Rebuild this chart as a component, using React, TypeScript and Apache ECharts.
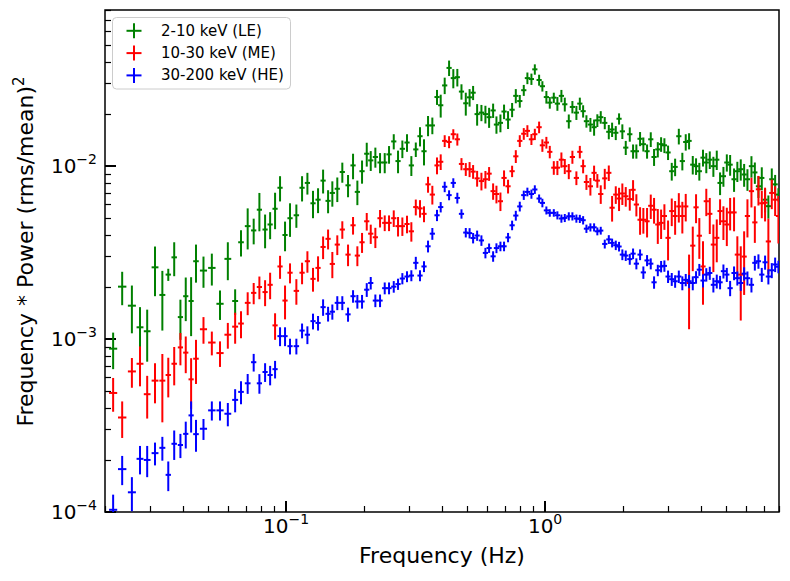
import React, { useEffect, useRef } from "react";
import * as echarts from "echarts";

// Frequencies (Hz), shared by the three energy bands
const freq = [
  0.0215, 0.0233, 0.0254, 0.0273, 0.0291, 0.0312, 0.0333, 0.0351, 0.0370, 0.0391,
  0.0410, 0.0430, 0.0449, 0.0480, 0.0517, 0.0556, 0.0596, 0.0636, 0.0670, 0.0711,
  0.0750, 0.0789, 0.0830, 0.0868, 0.0907, 0.0948, 0.0991, 0.1036,
  0.1096, 0.1153, 0.1209, 0.1271, 0.1329, 0.1390, 0.1453, 0.1509, 0.1577, 0.1649,
  0.1735, 0.1814, 0.1885, 0.1965, 0.2049, 0.2123, 0.2212, 0.2306, 0.2404, 0.2498,
  0.2605, 0.2706, 0.2812, 0.2931, 0.3046, 0.3169, 0.3290, 0.3409, 0.3533, 0.3671,
  0.3827, 0.3954, 0.4097, 0.4260, 0.4423, 0.4584, 0.4756, 0.4942,
  0.5112, 0.5274, 0.5466, 0.5679, 0.5884, 0.6080, 0.6301, 0.6490, 0.6724, 0.6944,
  0.7195, 0.7460, 0.7709, 0.7986, 0.8275, 0.8545, 0.8857, 0.9129, 0.9484, 0.9763,
  1.0116, 1.0427, 1.0806, 1.1157, 1.1562, 1.1915, 1.2347, 1.2749, 1.3209, 1.3619,
  1.4025, 1.4442, 1.4960, 1.5461, 1.5914, 1.6403, 1.7000, 1.7620, 1.8145, 1.8747,
  1.9302,
  1.9876, 2.0486, 2.1232, 2.1863, 2.2515, 2.3266, 2.3957, 2.4758, 2.5586, 2.6348,
  2.7238, 2.8050, 2.8885, 2.9840, 3.0837, 3.1773, 3.2835, 3.3878, 3.4918, 3.5968,
  3.717, 3.8271, 3.9399, 4.0716, 4.192, 4.3236, 4.464, 4.601, 4.738, 4.881,
  5.031, 5.181, 5.365, 5.524, 5.694, 5.868, 6.043, 6.262, 6.454, 6.664,
  6.865, 7.069, 7.279, 7.503, 7.730, 7.96,
];

// 2-10 keV (LE)
const leVal = [
  8.8e-4, 2.01e-3, 1.56e-3, 1.17e-3, 1.11e-3, 2.6e-3, 1.8e-3, 2.36e-3, 2.97e-3, 1.34e-3,
  1.77e-3, 1.66e-3, 2.82e-3, 2.49e-3, 2.58e-3, 1.6e-3, 2.91e-3, 1.66e-3, 3.63e-3, 4.5e-3,
  4.25e-3, 5.6e-3, 4.3e-3, 4.6e-3, 5.67e-3, 7.5e-3, 4.0e-3, 5.0e-3,
  5.2e-3, 7.5e-3, 8.0e-3, 6.1e-3, 6.4e-3, 8.25e-3, 6.3e-3, 7.0e-3, 7.4e-3, 9.25e-3,
  7.75e-3, 1.01e-2, 7.1e-3, 9.35e-3, 1.18e-2, 1.08e-2, 1.13e-2, 1.05e-2, 1.05e-2, 1.17e-2,
  1.39e-2, 1.07e-2, 1.26e-2, 1.37e-2, 1.01e-2, 1.25e-2, 1.49e-2, 1.22e-2, 1.72e-2, 1.72e-2,
  2.51e-2, 2.25e-2, 2.93e-2, 3.7e-2, 3.23e-2, 3.27e-2, 2.7e-2, 2.31e-2,
  2.5e-2, 2.66e-2, 2.0e-2, 2.04e-2, 2.0e-2, 1.92e-2, 2.1e-2, 1.74e-2, 1.78e-2, 2.07e-2,
  1.86e-2, 2.12e-2, 2.55e-2, 2.38e-2, 2.75e-2, 3.23e-2, 3.19e-2, 3.63e-2, 3.15e-2, 2.9e-2,
  2.51e-2, 2.33e-2, 2.49e-2, 2.3e-2, 2.55e-2, 2.28e-2, 1.82e-2, 2.2e-2, 2.04e-2, 2.3e-2,
  2.08e-2, 1.82e-2, 1.74e-2, 1.68e-2, 1.84e-2, 1.92e-2, 1.78e-2, 1.58e-2, 1.63e-2, 1.56e-2,
  1.88e-2,
  1.59e-2, 1.28e-2, 1.53e-2, 1.22e-2, 1.22e-2, 1.44e-2, 1.34e-2, 1.22e-2, 1.43e-2, 1.13e-2,
  1.25e-2, 1.34e-2, 1.32e-2, 1.2e-2, 9.35e-3, 9.9e-3, 1.49e-2, 1.07e-2, 1.38e-2, 1.4e-2,
  1.02e-2, 1.0e-2, 9.35e-3, 1.12e-2, 1.05e-2, 1.09e-2, 1.0e-2, 1.09e-2, 8.0e-3, 8.75e-3,
  1.05e-2, 1.02e-2, 8.4e-3, 9.35e-3, 9.6e-3, 8.95e-3, 8.4e-3, 1.0e-2, 9.2e-3, 7.65e-3,
  8.55e-3, 6.4e-3, 5.87e-3, 8.4e-3, 7.85e-3, 6.85e-3,
];
const leErr = [
  2.1e-4, 4.4e-4, 4.8e-4, 3.6e-4, 3.7e-4, 8.3e-4, 6.8e-4, 1.9e-4, 6.6e-4, 3.5e-4,
  5.0e-4, 6.2e-4, 7.0e-4, 5.1e-4, 5.4e-4, 3.1e-4, 7.2e-4, 2.8e-4, 6.3e-4, 1.2e-3,
  7.2e-4, 1.4e-3, 9.5e-4, 8.2e-4, 1.35e-3, 1.25e-3, 7.8e-4, 1.1e-3,
  8.0e-4, 1.25e-3, 1.15e-3, 1.1e-3, 1.05e-3, 1.3e-3, 9.6e-4, 1.17e-3, 1.2e-3, 1.23e-3,
  1.14e-3, 1.7e-3, 1.15e-3, 1.43e-3, 1.86e-3, 1.42e-3, 1.5e-3, 1.4e-3, 1.4e-3, 1.37e-3,
  1.4e-3, 1.6e-3, 1.47e-3, 1.6e-3, 1.33e-3, 1.2e-3, 1.9e-3, 2.1e-3, 2.3e-3, 1.9e-3,
  2.5e-3, 3.4e-3, 3.2e-3, 3.8e-3, 4.1e-3, 3.8e-3, 2.75e-3, 3.5e-3,
  2.9e-3, 2.5e-3, 2.85e-3, 2.2e-3, 2.35e-3, 2.55e-3, 2.0e-3, 2.0e-3, 2.1e-3, 2.0e-3,
  2.2e-3, 2.0e-3, 2.4e-3, 2.0e-3, 2.0e-3, 2.5e-3, 2.4e-3, 2.5e-3, 2.3e-3, 2.0e-3,
  2.1e-3, 1.8e-3, 1.7e-3, 2.1e-3, 2.1e-3, 2.1e-3, 1.7e-3, 1.8e-3, 1.9e-3, 1.9e-3,
  1.7e-3, 1.5e-3, 1.6e-3, 1.8e-3, 1.55e-3, 1.6e-3, 1.45e-3, 1.5e-3, 1.55e-3, 1.45e-3,
  1.4e-3,
  1.55e-3, 1.2e-3, 1.45e-3, 1.15e-3, 1.15e-3, 1.35e-3, 1.25e-3, 1.15e-3, 1.4e-3, 1.27e-3,
  1.27e-3, 1.3e-3, 1.3e-3, 1.15e-3, 1.1e-3, 1.15e-3, 1.55e-3, 1.25e-3, 1.5e-3, 1.5e-3,
  1.25e-3, 1.1e-3, 1.1e-3, 1.25e-3, 1.4e-3, 1.27e-3, 1.33e-3, 1.4e-3, 1.2e-3, 1.15e-3,
  1.2e-3, 1.4e-3, 1.3e-3, 1.25e-3, 1.35e-3, 1.35e-3, 1.2e-3, 1.42e-3, 1.3e-3, 1.1e-3,
  1.3e-3, 1.0e-3, 9e-4, 1.3e-3, 1.05e-3, 6e-4,
];

// 10-30 keV (ME)
const meVal = [
  4.88e-4, 3.52e-4, 6.5e-4, 7.2e-4, 4.8e-4, 5.75e-4, 5.75e-4, 6.2e-4, 7.2e-4, 8.95e-4,
  8.35e-4, 5.85e-4, 7.7e-4, 1.14e-3, 9.55e-4, 8.3e-4, 1.06e-3, 1.18e-3, 1.23e-3, 1.62e-3,
  1.85e-3, 2.0e-3, 1.87e-3, 2.06e-3, 1.2e-3, 2.63e-3, 1.67e-3, 2.42e-3,
  1.9e-3, 2.42e-3, 2.82e-3, 2.23e-3, 2.58e-3, 3.41e-3, 3.8e-3, 2.72e-3, 3.52e-3, 4.3e-3,
  3.08e-3, 4.55e-3, 3.04e-3, 3.63e-3, 4.8e-3, 4.07e-3, 3.88e-3, 5.0e-3, 4.7e-3, 4.7e-3,
  5.0e-3, 4.5e-3, 4.5e-3, 4.63e-3, 4.2e-3, 5.8e-3, 5.7e-3, 5.3e-3, 7.85e-3, 6.85e-3,
  1.01e-2, 1.06e-2, 1.4e-2, 1.38e-2, 1.53e-2, 1.43e-2, 1.03e-2, 9.6e-3,
  9.6e-3, 9.3e-3, 8.5e-3, 8.2e-3, 8.4e-3, 9.05e-3, 7.17e-3, 6.9e-3, 6.27e-3, 8.55e-3,
  7.65e-3, 9.35e-3, 1.14e-2, 1.4e-2, 1.54e-2, 1.6e-2, 1.43e-2, 1.53e-2, 1.68e-2, 1.32e-2,
  1.37e-2, 1.21e-2, 9.8e-3, 9.8e-3, 1.09e-2, 1.0e-2, 9.35e-3, 1.13e-2, 8.55e-3, 1.21e-2,
  1.0e-2, 8.1e-3, 7.65e-3, 9.15e-3, 8.25e-3, 6.9e-3, 8.5e-3, 9.15e-3, 5.75e-3, 6.85e-3,
  6.5e-3,
  6.95e-3, 6.7e-3, 6.45e-3, 7.3e-3, 6.0e-3, 4.9e-3, 4.9e-3, 4.8e-3, 5.9e-3, 5.6e-3,
  4.6e-3, 4.7e-3, 5.15e-3, 3.85e-3, 5.5e-3, 5.15e-3, 5.85e-3, 5.15e-3, 5.85e-3, 2.11e-3,
  3.47e-3, 5.78e-3, 3.96e-3, 2.63e-3, 6.27e-3, 5.3e-3, 3.52e-3, 3.85e-3, 5.5e-3, 4.8e-3,
  4.6e-3, 5.4e-3, 5.4e-3, 3.08e-3, 2.36e-3, 3.0e-3, 5.15e-3, 7.17e-3, 4.73e-3, 7.35e-3,
  6.1e-3, 6.15e-3, 3.67e-3, 7.0e-3, 6.4e-3, 5.15e-3,
];
const meErr = [
  1.08e-4, 8.4e-5, 1.27e-4, 1.87e-4, 1.33e-4, 1.5e-4, 2.45e-4, 1.6e-4, 1.8e-4, 1.9e-4,
  2.0e-4, 1.9e-4, 2.2e-4, 2.0e-4, 1.5e-4, 1.4e-4, 1.8e-4, 2.4e-4, 2.2e-4, 2.45e-4,
  2.6e-4, 3.0e-4, 3.2e-4, 3.6e-4, 2.1e-4, 4.0e-4, 3.7e-4, 3.2e-4,
  3.2e-4, 3.45e-4, 4.0e-4, 3.5e-4, 4.3e-4, 5.1e-4, 5.0e-4, 4.7e-4, 4.6e-4, 5.0e-4,
  4.4e-4, 5.3e-4, 4.0e-4, 4.8e-4, 5.6e-4, 5.2e-4, 5.2e-4, 5.8e-4, 4.9e-4, 4.9e-4,
  5.5e-4, 5.8e-4, 5.5e-4, 5.4e-4, 5.4e-4, 6.1e-4, 6.6e-4, 5.6e-4, 8.3e-4, 8.5e-4,
  1.13e-3, 1.1e-3, 1.1e-3, 1.1e-3, 1.05e-3, 1.15e-3, 8.3e-4, 8.2e-4,
  9.6e-4, 8.5e-4, 8.9e-4, 9.6e-4, 9.8e-4, 8.3e-4, 7.8e-4, 8.1e-4, 7.7e-4, 9.0e-4,
  7.0e-4, 7.1e-4, 9.7e-4, 1.1e-3, 1.2e-3, 1.25e-3, 1.05e-3, 1.15e-3, 1.3e-3, 1.1e-3,
  1.07e-3, 1.0e-3, 8.9e-4, 9.2e-4, 1.1e-3, 1.0e-3, 9.4e-4, 9.8e-4, 7.8e-4, 1.0e-3,
  9.1e-4, 8.1e-4, 8.9e-4, 9.2e-4, 7.5e-4, 8.5e-4, 1.15e-3, 9.4e-4, 9.7e-4, 8.0e-4,
  1.0e-3,
  9.9e-4, 8.7e-4, 9.2e-4, 1.0e-3, 8.8e-4, 8.9e-4, 8.3e-4, 9.3e-4, 9.5e-4, 9.5e-4,
  1.05e-3, 9.1e-4, 8.7e-4, 1.0e-3, 1.0e-3, 1.14e-3, 1.13e-3, 1.07e-3, 1.06e-3, 9.7e-4,
  1.0e-3, 1.1e-3, 1.05e-3, 1.05e-3, 1.13e-3, 1.25e-3, 1.08e-3, 1.07e-3, 9.3e-4, 1.06e-3,
  1.15e-3, 1.15e-3, 1.2e-3, 8.5e-4, 1.08e-3, 1.2e-3, 1.28e-3, 1.4e-3, 1.13e-3, 1.43e-3,
  1.1e-3, 1.36e-3, 1.3e-3, 1.36e-3, 1.25e-3, 1.58e-3,
];

// 30-200 keV (HE)
const heVal = [
  1.03e-4, 1.77e-4, 1.3e-4, 2.03e-4, 2.0e-4, 2.19e-4, 2.35e-4, 1.64e-4, 2.48e-4, 2.44e-4,
  2.83e-4, 3.62e-4, 2.82e-4, 3.03e-4, 3.87e-4, 3.87e-4, 3.7e-4, 4.45e-4, 4.95e-4, 5.55e-4,
  7.35e-4, 5.55e-4, 6.45e-4, 6.2e-4, 6.7e-4, 1.04e-3, 1.04e-3, 9.1e-4,
  9.1e-4, 1.12e-3, 1.06e-3, 1.27e-3, 1.24e-3, 1.53e-3, 1.4e-3, 1.44e-3, 1.62e-3, 1.62e-3,
  1.39e-3, 1.77e-3, 1.65e-3, 1.65e-3, 1.93e-3, 2.11e-3, 1.67e-3, 1.67e-3, 1.97e-3, 1.97e-3,
  2.01e-3, 2.08e-3, 2.24e-3, 2.3e-3, 2.33e-3, 2.76e-3, 2.33e-3, 2.63e-3, 3.44e-3, 4.07e-3,
  5.2e-3, 5.8e-3, 7.6e-3, 6.8e-3, 8.0e-3, 6.55e-3, 5.3e-3, 4.13e-3,
  4.1e-3, 3.84e-3, 3.97e-3, 3.72e-3, 3.15e-3, 3.36e-3, 3.01e-3, 3.36e-3, 3.44e-3, 3.44e-3,
  3.87e-3, 4.55e-3, 5.18e-3, 5.85e-3, 6.8e-3, 7.1e-3, 6.9e-3, 7.33e-3, 6.5e-3, 6.13e-3,
  5.55e-3, 5.37e-3, 5.37e-3, 5.2e-3, 4.98e-3, 5.02e-3, 5.13e-3, 5.13e-3, 4.98e-3, 4.96e-3,
  4.87e-3, 4.35e-3, 4.43e-3, 4.43e-3, 4.2e-3, 4.24e-3, 3.55e-3, 3.77e-3, 3.6e-3, 3.49e-3,
  3.43e-3,
  3.08e-3, 3.04e-3, 2.9e-3, 3.12e-3, 2.73e-3, 3.08e-3, 2.43e-3, 2.85e-3, 2.73e-3, 2.13e-3,
  2.5e-3, 2.63e-3, 2.65e-3, 2.3e-3, 2.22e-3, 2.16e-3, 2.3e-3, 2.11e-3, 2.2e-3, 2.16e-3,
  2.11e-3, 2.28e-3, 2.52e-3, 2.18e-3, 2.36e-3, 2.41e-3, 2.06e-3, 2.16e-3, 2.13e-3, 2.47e-3,
  2.36e-3, 1.97e-3, 2.41e-3, 2.25e-3, 2.11e-3, 2.39e-3, 2.25e-3, 2.06e-3, 2.76e-3, 2.82e-3,
  2.36e-3, 2.78e-3, 2.3e-3, 2.5e-3, 2.7e-3, 2.62e-3,
];
const heErr = [
  2.3e-5, 3.4e-5, 2.9e-5, 3.8e-5, 4.1e-5, 3.3e-5, 3.7e-5, 3.2e-5, 4.8e-5, 3.9e-5,
  5.0e-5, 7.4e-5, 5.9e-5, 4.2e-5, 4.9e-5, 4.9e-5, 5.7e-5, 6.8e-5, 7.5e-5, 7.3e-5,
  8.6e-5, 7.2e-5, 8.0e-5, 8.0e-5, 7.8e-5, 1.3e-4, 1.3e-4, 9.5e-5,
  9.5e-5, 1.1e-4, 1.25e-4, 1.33e-4, 1.2e-4, 1.67e-4, 1.37e-4, 1.45e-4, 1.5e-4, 1.5e-4,
  1.3e-4, 1.47e-4, 1.5e-4, 1.5e-4, 1.77e-4, 1.75e-4, 1.4e-4, 1.4e-4, 1.55e-4, 1.55e-4,
  1.55e-4, 1.55e-4, 1.67e-4, 1.67e-4, 1.7e-4, 2.3e-4, 1.7e-4, 1.9e-4, 2.7e-4, 3.2e-4,
  3.9e-4, 4.0e-4, 5.3e-4, 4.5e-4, 5.1e-4, 4.7e-4, 3.3e-4, 2.6e-4,
  2.8e-4, 2.65e-4, 2.7e-4, 2.6e-4, 2.2e-4, 2.1e-4, 2.1e-4, 2.2e-4, 2.2e-4, 2.2e-4,
  2.4e-4, 2.9e-4, 3.4e-4, 3.8e-4, 4.2e-4, 4.1e-4, 4.2e-4, 4.2e-4, 3.6e-4, 3.5e-4,
  2.95e-4, 2.7e-4, 2.7e-4, 2.8e-4, 2.7e-4, 2.7e-4, 2.8e-4, 2.8e-4, 2.7e-4, 2.7e-4,
  2.7e-4, 2.4e-4, 2.4e-4, 2.4e-4, 2.2e-4, 2.2e-4, 2.1e-4, 2.2e-4, 2.1e-4, 2.2e-4,
  2.2e-4,
  2.2e-4, 2.1e-4, 2.1e-4, 2.2e-4, 2.0e-4, 2.2e-4, 2.0e-4, 2.1e-4, 2.0e-4, 1.75e-4,
  1.9e-4, 2.0e-4, 2.0e-4, 1.9e-4, 1.9e-4, 1.8e-4, 1.9e-4, 1.95e-4, 1.8e-4, 1.9e-4,
  1.95e-4, 1.9e-4, 2.0e-4, 1.9e-4, 2.1e-4, 2.1e-4, 2.0e-4, 2.0e-4, 1.9e-4, 2.3e-4,
  2.2e-4, 2.0e-4, 2.2e-4, 2.1e-4, 2.1e-4, 2.1e-4, 2.1e-4, 2.0e-4, 2.7e-4, 2.7e-4,
  2.2e-4, 2.6e-4, 2.3e-4, 2.5e-4, 2.6e-4, 2.2e-4,
];

const bandLabels = ["2-10 keV (LE)", "10-30 keV (ME)", "30-200 keV (HE)"];
const bandColors = ["#008000", "#ff0000", "#0000ff"];

// tick values
const xMajorTicks = [0.1, 1];
const xMinorTicks = [
  0.02, 0.03, 0.04, 0.05, 0.06, 0.07, 0.08, 0.09,
  0.2, 0.3, 0.4, 0.5, 0.6, 0.7, 0.8, 0.9,
  2, 3, 4, 5, 6, 7, 8,
];
const yMajorTicks = [1e-4, 1e-3, 1e-2];
const yMinorTicks = [
  2e-4, 3e-4, 4e-4, 5e-4, 6e-4, 7e-4, 8e-4, 9e-4,
  2e-3, 3e-3, 4e-3, 5e-3, 6e-3, 7e-3, 8e-3, 9e-3,
  2e-2, 3e-2, 4e-2, 5e-2, 6e-2, 7e-2, 8e-2,
];

const FONT = "DejaVu Sans";

const powRich = {
  b: { fontSize: 20, fontFamily: FONT, color: "#000", lineHeight: 22 },
  s: { fontSize: 14, fontFamily: FONT, color: "#000", lineHeight: 14, padding: [0, 0, 14, 0] },
};

function powLabel(v: number) {
  const e = Math.round(Math.log10(v));
  return `{b|10}{s|${e < 0 ? "\u2212" : ""}${Math.abs(e)}}`;
}

function errorSeries(name: string, vals: number[], errs: number[], color: string) {
  return {
    type: "custom",
    name,
    xAxisIndex: 0,
    yAxisIndex: 0,
    clip: true,
    data: freq.map((f, i) => [f, vals[i], errs[i]]),
    encode: { x: 0, y: 1 },
    renderItem: (params: any, api: any) => {
      const i = params.dataIndex;
      const f = api.value(0);
      const v = api.value(1);
      const e = api.value(2);
      const c = api.coord([f, v]);
      const top = api.coord([f, v + e]);
      const bot = api.coord([f, Math.max(v - e, 1e-8)]);
      const iPrev = Math.max(i - 1, 0);
      const iNext = Math.min(i + 1, freq.length - 1);
      const xp = api.coord([freq[iPrev], v])[0];
      const xn = api.coord([freq[iNext], v])[0];
      const spacing = (xn - xp) / (iNext - iPrev);
      const hw = Math.min(4.2, Math.max(2.6, spacing * 0.45));
      return {
        type: "group",
        children: [
          {
            type: "line",
            shape: { x1: c[0], y1: top[1], x2: c[0], y2: bot[1] },
            style: { stroke: color, lineWidth: 2 },
          },
          {
            type: "line",
            shape: { x1: c[0] - hw, y1: c[1], x2: c[0] + hw, y2: c[1] },
            style: { stroke: color, lineWidth: 2 },
          },
        ],
      };
    },
  };
}

function legendGraphic() {
  const children: any[] = [
    {
      type: "rect",
      shape: { x: 112.5, y: 17.5, width: 178, height: 71.5, r: 4 },
      style: { fill: "rgba(255,255,255,0.8)", stroke: "#cccccc", lineWidth: 1 },
    },
  ];
  bandLabels.forEach((label, i) => {
    const cy = 30.8 + i * 22.3;
    const cx = 134;
    children.push(
      { type: "line", shape: { x1: cx - 7.5, y1: cy, x2: cx + 7.5, y2: cy }, style: { stroke: bandColors[i], lineWidth: 2 } },
      { type: "line", shape: { x1: cx, y1: cy - 7.5, x2: cx, y2: cy + 7.5 }, style: { stroke: bandColors[i], lineWidth: 2 } },
      {
        type: "text",
        x: 161,
        y: cy,
        style: { text: label, fontSize: 15, fontFamily: FONT, fill: "#000", verticalAlign: "middle", align: "left" },
      }
    );
  });
  return [{ type: "group", z: 100, children }];
}

export default function App() {
  const ref = useRef<HTMLDivElement>(null);
  useEffect(() => {
    if (!ref.current) return;
    const chart = echarts.init(ref.current, null, { renderer: "svg" });
    const option: any = {
      animation: false,
      backgroundColor: "#ffffff",
      textStyle: { fontFamily: FONT },
      grid: {
        left: 105,
        top: 10,
        right: 11,
        bottom: 69,
        show: true,
        borderColor: "#000",
        borderWidth: 1.5,
        backgroundColor: "transparent",
      },
      xAxis: [
        {
          type: "log",
          logBase: 10,
          min: 0.02,
          max: 8,
          position: "bottom",
          axisLine: { show: false },
          splitLine: { show: false },
          minorTick: { show: false },
          axisTick: { show: true, inside: true, length: 11, lineStyle: { color: "#000", width: 2 }, customValues: xMajorTicks },
          axisLabel: { show: true, customValues: xMajorTicks, formatter: powLabel, margin: 3, rich: powRich },
          name: "Frequency (Hz)",
          nameLocation: "middle",
          nameGap: 32,
          nameTextStyle: { fontSize: 22, fontFamily: FONT, color: "#000" },
        },
        {
          type: "log",
          logBase: 10,
          min: 0.02,
          max: 8,
          position: "bottom",
          axisLine: { show: false },
          splitLine: { show: false },
          axisLabel: { show: false },
          axisTick: { show: true, inside: true, length: 6, lineStyle: { color: "#000", width: 1.2 }, customValues: xMinorTicks },
        },
      ],
      yAxis: [
        {
          type: "log",
          logBase: 10,
          min: 1e-4,
          max: 0.08,
          position: "left",
          axisLine: { show: false },
          splitLine: { show: false },
          minorTick: { show: false },
          axisTick: { show: true, inside: true, length: 11, lineStyle: { color: "#000", width: 2 }, customValues: yMajorTicks },
          axisLabel: { show: true, customValues: yMajorTicks, formatter: powLabel, margin: 8, rich: powRich },
          name: "Frequency * Power (rms/mean){sup|2}",
          nameLocation: "middle",
          nameGap: 66,
          nameTextStyle: {
            fontSize: 22,
            fontFamily: FONT,
            color: "#000",
            padding: [0, 0, 0, 19],
            rich: {
              sup: { fontSize: 15, fontFamily: FONT, color: "#000", lineHeight: 15, padding: [0, 0, 14, 0] },
            },
          },
        },
        {
          type: "log",
          logBase: 10,
          min: 1e-4,
          max: 0.08,
          position: "left",
          axisLine: { show: false },
          splitLine: { show: false },
          axisLabel: { show: false },
          axisTick: { show: true, inside: true, length: 6, lineStyle: { color: "#000", width: 1.2 }, customValues: yMinorTicks },
        },
      ],
      series: [
        errorSeries(bandLabels[0], leVal, leErr, bandColors[0]),
        errorSeries(bandLabels[1], meVal, meErr, bandColors[1]),
        errorSeries(bandLabels[2], heVal, heErr, bandColors[2]),
      ],
      graphic: legendGraphic(),
    };
    chart.setOption(option);
    return () => chart.dispose();
  }, []);
  return (
    <div
      ref={ref}
      style={{ position: "absolute", left: 0, top: 0, width: 790, height: 581, background: "#fff" }}
    />
  );
}
